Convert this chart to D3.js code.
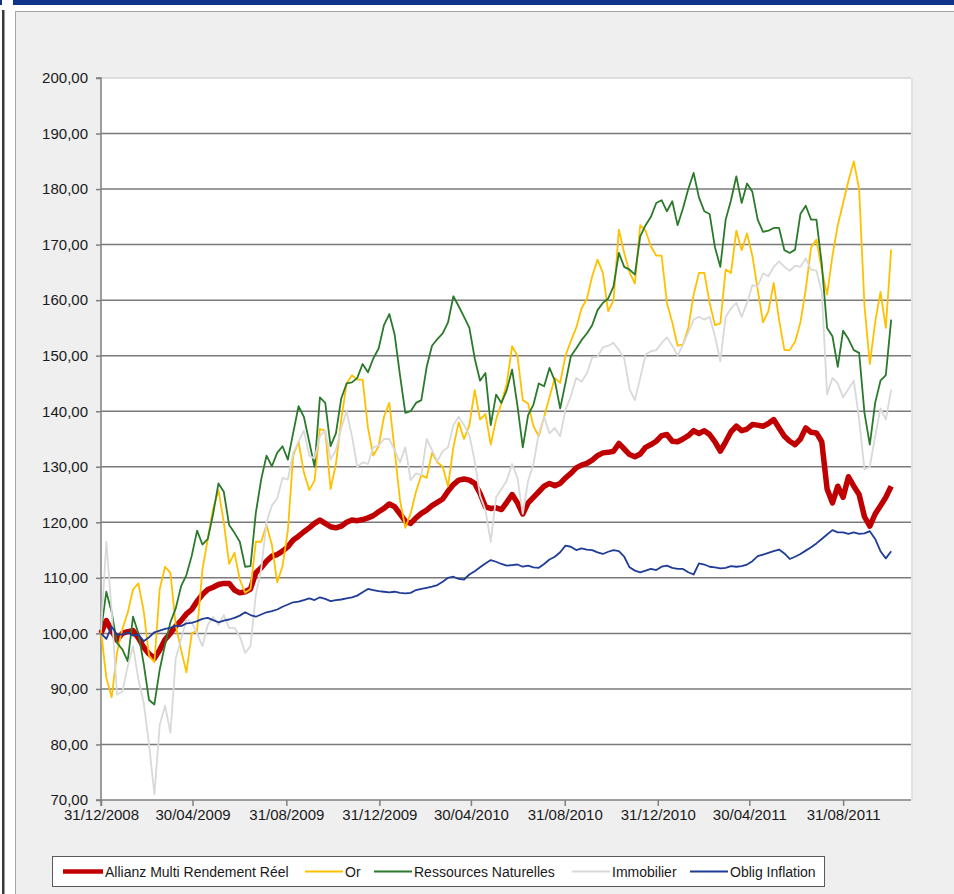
<!DOCTYPE html>
<html>
<head>
<meta charset="utf-8">
<script src="https://cdn.jsdelivr.net/npm/d3@7/dist/d3.min.js"></script>
<style>
  body { margin: 0; background: #ffffff; }
  svg { display: block; }
</style>
</head>
<body>
<div id="chart"></div>
<script>
// weekly points starting on 31/12/2008
const START_DATE = "2008-12-31";
const STEP_DAYS = 7;

const TICK_DATES = [
  "31/12/2008", "30/04/2009", "31/08/2009", "31/12/2009", "30/04/2010",
  "31/08/2010", "31/12/2010", "30/04/2011", "31/08/2011"
];
const Y_TICKS = [70, 80, 90, 100, 110, 120, 130, 140, 150, 160, 170, 180, 190, 200];

const SERIES_NAMES = [
  "Allianz Multi Rendement Réel", "Or", "Ressources Naturelles", "Immobilier", "Oblig Inflation"
];

const allianz = [
  100, 102.3, 100.5, 98.8, 100, 100.3, 100.5, 99.2, 97.5, 96.3,
  95.5, 97, 98.9, 100, 101.3, 102.3, 103.5, 104.3, 105.8, 107,
  107.9, 108.3, 108.8, 109, 109, 107.8, 107.3, 107.5, 108, 110.9,
  111.8, 113, 113.9, 114.2, 114.8, 115.6, 116.8, 117.5, 118.3, 119,
  119.8, 120.4, 119.8, 119.2, 119, 119.3, 120, 120.4, 120.3, 120.5,
  120.8, 121.2, 121.9, 122.5, 123.3, 122.8, 121.5, 120.2, 119.8, 120.8,
  121.6, 122.2, 123, 123.6, 124.2, 125.6, 126.8, 127.6, 127.8, 127.6,
  127, 125.2, 122.8, 122.5, 122.6, 122.3, 123.6, 125, 123.5, 121.5,
  123.5, 124.5, 125.5, 126.5, 127, 126.6, 127, 128, 128.8, 129.8,
  130.3, 130.6, 131.2, 132, 132.5, 132.6, 132.8, 134.2, 133.2, 132.2,
  131.8, 132.3, 133.5, 134, 134.6, 135.6, 135.8, 134.6, 134.5, 135,
  135.6, 136.5, 136, 136.5, 135.8, 134.5, 132.8, 134.5, 136.3, 137.3,
  136.5, 136.8, 137.6, 137.5, 137.3, 137.8, 138.5, 137, 135.5, 134.6,
  134, 135, 137, 136.2, 136.1, 134.5, 126, 123.5, 126.5, 124.5,
  128.2, 126.5, 125, 121, 119.3, 121.5, 123, 124.5, 126.5
];

const gold = [
  100.5, 92, 88.5, 96.5, 100.8, 103.7, 107.9, 109, 104, 96,
  94.8, 108, 112, 110.9, 101.5, 97, 93, 100, 100.5, 111.5,
  117, 122.5, 125.8, 120, 112.5, 114.5, 109.7, 107.3, 108, 116.5,
  116.5, 119.5, 116, 109.2, 112.1, 118.5, 132, 134.5, 129, 125.8,
  127.5, 136.8, 136.5, 126, 130.5, 138.5, 145, 146.5, 145.7, 145.7,
  137, 132, 133.7, 139, 141.5, 133, 124, 119, 121.6, 125.5,
  128.5, 128, 132.5, 130.8, 130, 126.5, 133.5, 138, 135, 137.5,
  143.8, 138.5, 139.5, 134, 138.5, 141.5, 145, 151.7, 150, 142,
  141.4, 137.3, 135.5, 139, 142.5, 146, 145.1, 150, 152.6, 155,
  158.5, 160.2, 164.3, 167.3, 164.9, 158, 160, 172.7, 168.5, 165,
  163, 173.5, 172.5, 169.7, 168, 168, 159.5, 156, 151.8, 152,
  155, 161, 164.9, 164.9, 159.5, 155.5, 155.8, 165.5, 164.9, 172.5,
  169, 172, 168, 161.9, 156, 158, 163.1, 156.5, 151, 151,
  152.5, 156, 161.9, 169.5, 170.9, 165.5, 161, 168, 173.5, 177.5,
  181.5, 185, 180, 159, 148.5, 156, 161.5, 155, 169.1
];

const ressources = [
  100.5, 107.5, 103.8, 98.3, 97.1, 95, 103, 100, 94.5, 88,
  87.2, 93.5, 98, 102, 104.5, 108.5, 110.5, 114, 118.5, 116,
  117, 121.5, 127, 125.5, 119.5, 118.1, 116.5, 112, 112.1, 121.7,
  127.7, 132, 130.1, 132.5, 133.7, 131.3, 136.1, 140.9, 139, 134.5,
  130, 142.5, 141.5, 133.7, 136, 142.3, 145, 145.2, 146, 148.5,
  147, 149.5, 151.3, 155.5, 157.5, 153.8, 146.5, 139.7, 140, 141.5,
  142, 148, 151.8, 153, 154, 156, 160.7, 158.9, 157, 155,
  149.5, 145.5, 146.9, 137.5, 143, 141.5, 143.8, 147.5, 141, 133.5,
  139.3, 141.2, 145, 144.5, 147.8, 145.5, 140.5, 145.1, 149.9, 151.3,
  152.8, 154, 155.5, 158.2, 159.5, 160.3, 162.5, 168.5, 166, 165.5,
  164.6, 171.5, 173.5, 175, 177.5, 178, 176, 177.8, 173.5, 176.5,
  180, 182.9, 178.5, 176, 175.5, 169.5, 166, 174.5, 178, 182.3,
  177.5, 181, 179.5, 174.5, 172.3, 172.5, 173, 173, 169, 168.5,
  169.1, 175.5, 177, 174.5, 174.5, 166.5, 155, 153.5, 148, 154.5,
  153, 151, 150.5, 139.7, 134, 141.5, 145.5, 146.5, 156.5
];

const immobilier = [
  100.5, 116.5, 104, 89, 89.5, 94.1, 97.7, 91.7, 87.5, 80,
  71, 83.5, 87, 82.1, 95.5, 99, 102.5, 102, 100, 97.7,
  101.5, 103, 101.5, 103.3, 101, 101, 99.5, 96.5, 97.7, 107,
  111.5, 120, 123, 124.3, 128, 127.7, 132.5, 134.5, 136.5, 132,
  131.5, 135.5, 136.5, 131.3, 133, 137, 140, 135.5, 130, 130.8,
  130.5, 133.5, 133.8, 135, 135, 133, 130.8, 133.5, 127.6, 128.8,
  128.5, 135, 133, 131, 132.8, 133.5, 137.5, 139, 137.5, 135.7,
  131, 124.8, 122.2, 116.5, 124.5, 126, 127.5, 130.5, 128, 121.5,
  127.5, 130.5, 136, 139, 136, 137, 135.5, 140.3, 142.7, 146,
  145.3, 146.8, 149.7, 149.8, 151.5, 151.8, 152.3, 151, 149.5, 144,
  142, 146, 150.2, 150.8, 151, 152.3, 153.3, 151.8, 150, 152,
  154.2, 156.5, 157, 156.5, 157, 153.5, 149, 157, 158.5, 159.5,
  157, 159.5, 162.7, 162.5, 164.8, 164.3, 166, 167, 166, 165.3,
  166.2, 166, 167.5, 165.5, 165.3, 161.5, 143, 146, 145, 142.5,
  144, 145.5, 138.5, 129.5, 130, 135.5, 140.5, 138.5, 143.9
];

const obligInflation = [
  100, 99, 101.2, 99.8, 99.8, 100.2, 99.6, 99.8, 98.6, 99.3,
  100.2, 100.5, 100.8, 101, 101.4, 101.3, 101.8, 101.9, 102.2, 102.6,
  102.8, 102.4, 102, 102.3, 102.5, 102.8, 103.2, 103.8, 103.3, 103,
  103.4, 103.8, 104, 104.3, 104.8, 105.2, 105.6, 105.7, 106, 106.3,
  106, 106.5, 106.2, 105.8, 106, 106.1, 106.3, 106.5, 106.8, 107.4,
  108, 107.8, 107.6, 107.5, 107.4, 107.5, 107.3, 107.2, 107.3, 107.8,
  108, 108.2, 108.4, 108.7, 109.3, 110, 110.2, 109.8, 109.7, 110.6,
  111.2, 111.9, 112.6, 113.2, 112.9, 112.5, 112.2, 112.3, 112.4, 112,
  112.2, 111.9, 111.8, 112.5, 113.3, 113.8, 114.6, 115.8, 115.6, 115,
  115.3, 115.1, 115, 114.6, 114.3, 114.7, 115, 114.8, 113.8, 111.9,
  111.3, 111, 111.3, 111.6, 111.4, 112, 112.2, 111.8, 111.6, 111.6,
  111, 110.6, 112.6, 112.4, 112, 111.9, 111.7, 111.8, 112.1, 112,
  112.1, 112.4, 113, 113.9, 114.2, 114.5, 114.8, 115.1, 114.4, 113.4,
  113.8, 114.3, 114.9, 115.5, 116.2, 117, 117.8, 118.6, 118.2, 118.2,
  117.9, 118.2, 117.9, 118, 118.4, 117, 114.8, 113.5, 114.8
];

const SERIES_VALUES = [allianz, gold, ressources, immobilier, obligInflation];
const SERIES_COLORS = ["#c00000", "#ffc000", "#2b7a2b", "#d9d9d9", "#1f3c96"];
const SERIES_WIDTHS = [5.5, 1.8, 1.8, 1.8, 1.8];

const WIDTH = 954;
const HEIGHT = 894;
const FONT = "'Liberation Sans', Arial, sans-serif";

const plot = { left: 101, top: 78, right: 911, bottom: 800 };

const parseFr = d3.timeParse("%d/%m/%Y");
const startDate = d3.timeParse("%Y-%m-%d")(START_DATE);
const dates = allianz.map((d, i) => d3.timeDay.offset(startDate, i * STEP_DAYS));

const svg = d3
  .select("#chart")
  .append("svg")
  .attr("width", WIDTH)
  .attr("height", HEIGHT);

// page frame: top band, left rule, grey panel
svg.append("rect").attr("x", 13).attr("y", 0).attr("width", WIDTH - 13).attr("height", 5).attr("fill", "#10338a");
svg.append("rect").attr("x", 0).attr("y", 0).attr("width", 2).attr("height", 5).attr("fill", "#10338a");
svg.append("rect").attr("x", 2).attr("y", 10).attr("width", 2.5).attr("height", HEIGHT - 10).attr("fill", "#3a3a3a");
svg
  .append("rect")
  .attr("x", 15.5)
  .attr("y", 11.5)
  .attr("width", WIDTH)
  .attr("height", HEIGHT)
  .attr("fill", "#efefef")
  .attr("stroke", "#a6a6a6")
  .attr("stroke-width", 1);

svg
  .append("rect")
  .attr("x", plot.left)
  .attr("y", plot.top)
  .attr("width", plot.right - plot.left)
  .attr("height", plot.bottom - plot.top)
  .attr("fill", "#ffffff");
svg
  .append("rect")
  .attr("x", plot.right)
  .attr("y", plot.top)
  .attr("width", 2)
  .attr("height", plot.bottom - plot.top)
  .attr("fill", "#e2e2e2");

const x = d3
  .scaleTime()
  .domain([startDate, parseFr("28/11/2011")])
  .range([plot.left, plot.right]);

const y = d3
  .scaleLinear()
  .domain([70, 200])
  .range([plot.bottom, plot.top]);

// gridlines
svg
  .append("g")
  .selectAll("line")
  .data(Y_TICKS.filter(d => d > 70))
  .enter()
  .append("line")
  .attr("x1", plot.left)
  .attr("x2", plot.right)
  .attr("y1", d => y(d))
  .attr("y2", d => y(d))
  .attr("stroke", d => (d === 200 ? "#d4d4d4" : "#7a7a7a"))
  .attr("stroke-width", 1.5);

const formatTick = d => d3.format(".2f")(d).replace(".", ",");

const leftAxis = d3
  .axisLeft(y)
  .tickValues(Y_TICKS)
  .tickSize(5)
  .tickPadding(8)
  .tickFormat(formatTick);

const gy = svg
  .append("g")
  .attr("transform", `translate(${plot.left}, 0)`)
  .call(leftAxis);

const bottomAxis = d3
  .axisBottom(x)
  .tickValues(TICK_DATES.map(parseFr))
  .tickSize(6)
  .tickPadding(3)
  .tickFormat(d3.timeFormat("%d/%m/%Y"));

const gx = svg
  .append("g")
  .attr("transform", `translate(0, ${plot.bottom})`)
  .call(bottomAxis);

[gx, gy].forEach(g => {
  g.select(".domain").attr("stroke", "#808080").attr("stroke-width", 1.5);
  g.selectAll(".tick line").attr("stroke", "#808080").attr("stroke-width", 1.5);
  g.selectAll(".tick text")
    .style("font-family", FONT)
    .style("font-size", "15px")
    .attr("fill", "#1a1a1a");
});
gy.select(".domain").attr("d", `M-5,${plot.top}H0V${plot.bottom}H-5`);
gx.select(".domain").attr("d", `M${plot.left},6V0H${plot.right}`);

// series lines
const line = d3
  .line()
  .x((d, i) => x(dates[i]))
  .y(d => y(d));

svg
  .append("g")
  .selectAll("path")
  .data(SERIES_VALUES)
  .enter()
  .append("path")
  .attr("d", d => line(d))
  .attr("fill", "none")
  .attr("stroke", (d, i) => SERIES_COLORS[i])
  .attr("stroke-width", (d, i) => SERIES_WIDTHS[i])
  .attr("stroke-linejoin", "round");

// legend
const LEGEND_ITEMS = [
  { x: 63, textX: 105 },
  { x: 305, textX: 345 },
  { x: 374, textX: 414 },
  { x: 572, textX: 612 },
  { x: 690, textX: 730 }
];

const legend = svg.append("g");
legend
  .append("rect")
  .attr("x", 52.5)
  .attr("y", 856.5)
  .attr("width", 772)
  .attr("height", 30)
  .attr("fill", "#ffffff")
  .attr("stroke", "#5a5a5a")
  .attr("stroke-width", 1);

const items = legend
  .selectAll("g")
  .data(SERIES_NAMES)
  .enter()
  .append("g");

items
  .append("line")
  .attr("x1", (d, i) => LEGEND_ITEMS[i].x)
  .attr("x2", (d, i) => LEGEND_ITEMS[i].textX - 2)
  .attr("y1", 871.5)
  .attr("y2", 871.5)
  .attr("stroke", (d, i) => SERIES_COLORS[i])
  .attr("stroke-width", (d, i) => (i === 0 ? 4.5 : 2));

items
  .append("text")
  .attr("x", (d, i) => LEGEND_ITEMS[i].textX)
  .attr("y", 876.5)
  .text(d => d)
  .style("font-family", FONT)
  .style("font-size", "14px")
  .attr("fill", "#1a1a1a");
</script>
</body>
</html>
